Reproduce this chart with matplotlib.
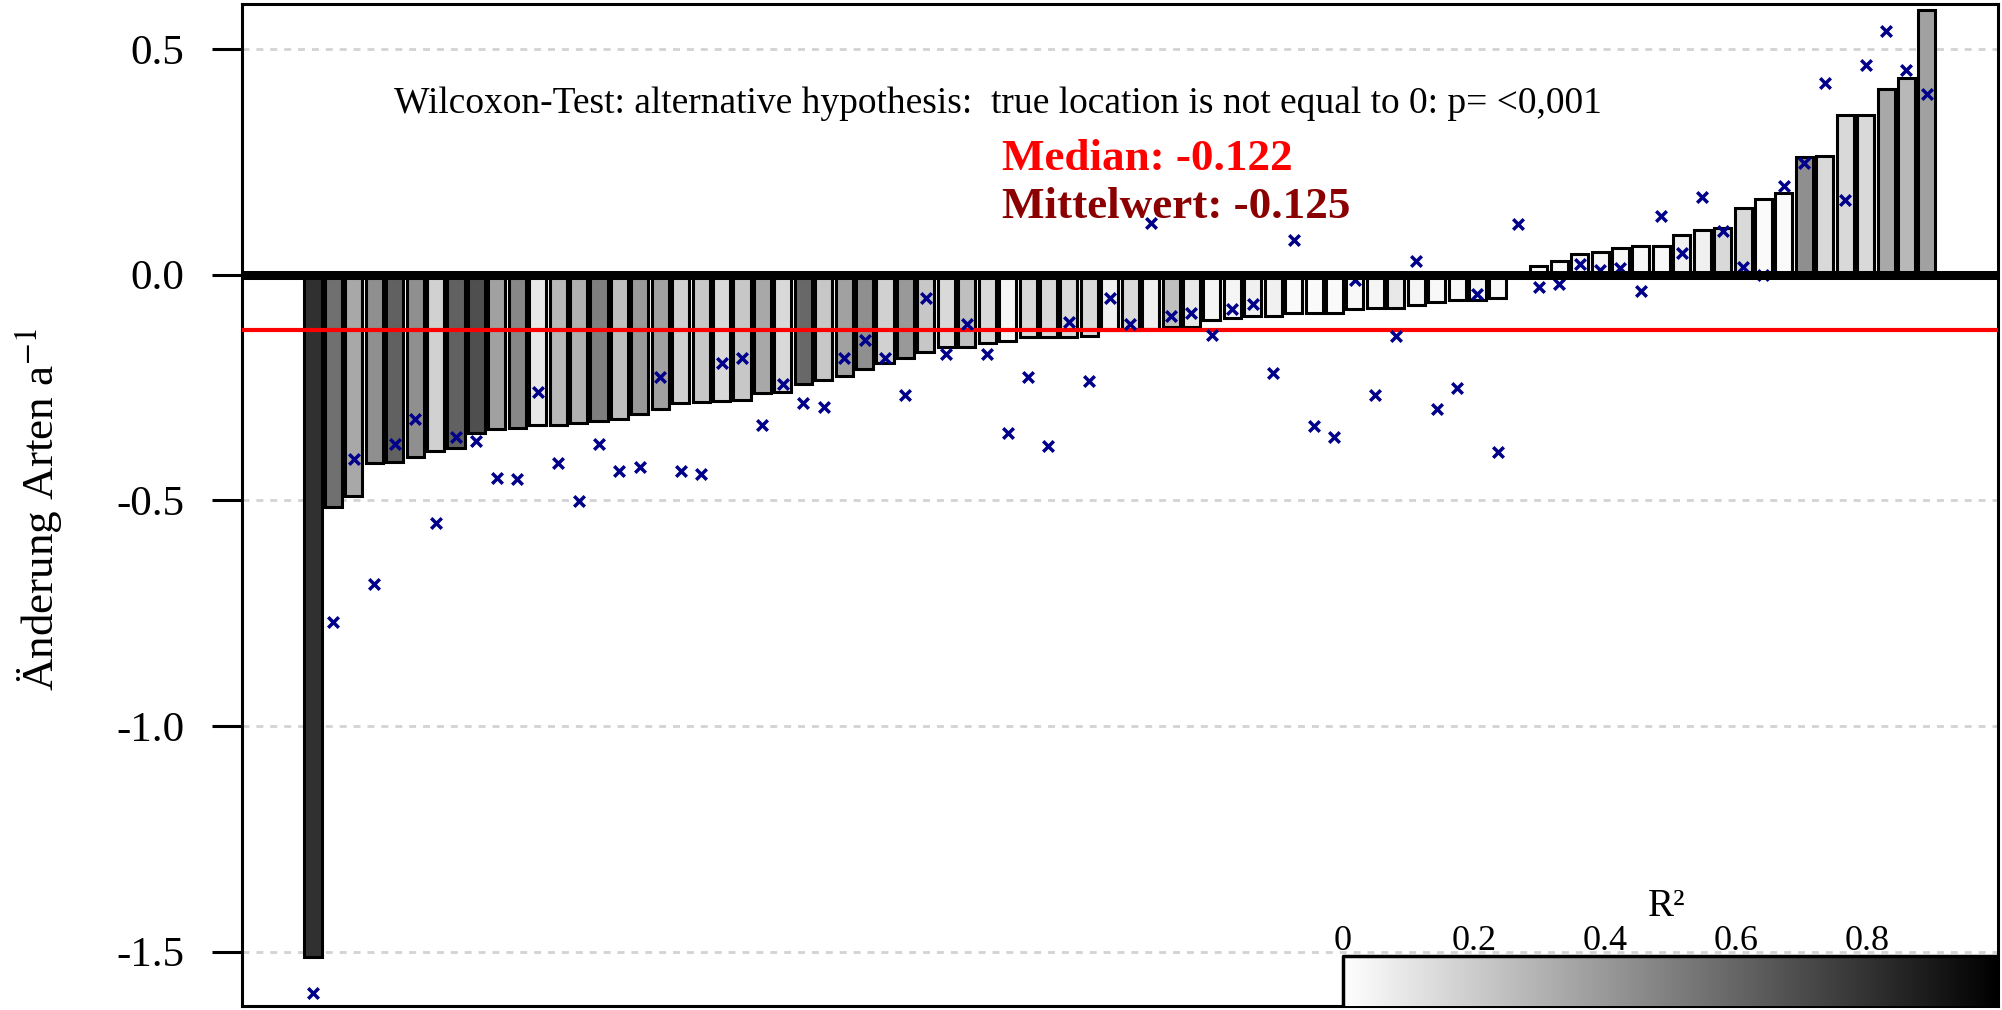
import numpy as np
from matplotlib import pyplot as plt

plt.rcParams['font.family'] = ['Liberation Serif', 'DejaVu Serif']
plt.rcParams['mathtext.fontset'] = 'stix'

# Change of species per year (bars), sorted ascending
slopes = [-1.513, -0.516, -0.490, -0.417, -0.415, -0.405, -0.391, -0.385, -0.352, -0.343,
          -0.341, -0.333, -0.333, -0.328, -0.324, -0.319, -0.310, -0.297, -0.285, -0.283,
          -0.281, -0.279, -0.263, -0.261, -0.243, -0.234, -0.224, -0.210, -0.197, -0.184,
          -0.171, -0.161, -0.160, -0.152, -0.147, -0.139, -0.138, -0.138, -0.136, -0.123,
          -0.122, -0.121, -0.117, -0.116, -0.101, -0.097, -0.093, -0.092, -0.086, -0.086,
          -0.085, -0.077, -0.075, -0.074, -0.068, -0.060, -0.056, -0.056, -0.053, 0.000,
          0.019, 0.031, 0.045, 0.049, 0.058, 0.063, 0.063, 0.088, 0.099, 0.103,
          0.148, 0.167, 0.180, 0.260, 0.263, 0.353, 0.353, 0.410, 0.436, 0.587]

# R² of each regression (bar shading)
r_squared = [0.81, 0.56, 0.34, 0.44, 0.62, 0.44, 0.18, 0.62, 0.69, 0.37,
             0.47, 0.09, 0.28, 0.31, 0.50, 0.25, 0.40, 0.37, 0.18, 0.22,
             0.15, 0.22, 0.34, 0.15, 0.59, 0.22, 0.37, 0.44, 0.18, 0.40,
             0.22, 0.15, 0.25, 0.15, 0.04, 0.15, 0.15, 0.15, 0.15, 0.06,
             0.15, 0.06, 0.25, 0.09, 0.04, 0.04, 0.06, 0.06, 0.02, 0.02,
             0.02, 0.03, 0.04, 0.09, 0.04, 0.03, 0.03, 0.04, 0.03, 0.00,
             0.03, 0.03, 0.04, 0.04, 0.03, 0.03, 0.03, 0.06, 0.06, 0.15,
             0.15, 0.02, 0.02, 0.44, 0.15, 0.15, 0.15, 0.34, 0.28, 0.37]

# second estimate per plot (blue crosses)
cross_vals = [-1.592, -0.769, -0.409, -0.685, -0.376, -0.319, -0.551, -0.359, -0.368, -0.450,
              -0.452, -0.261, -0.418, -0.502, -0.376, -0.435, -0.427, -0.226, -0.435, -0.443,
              -0.195, -0.186, -0.333, -0.243, -0.285, -0.293, -0.186, -0.144, -0.186, -0.268,
              -0.053, -0.177, -0.110, -0.177, -0.352, -0.227, -0.380, -0.105, -0.235, -0.053,
              -0.110, 0.115, -0.093, -0.086, -0.133, -0.077, -0.066, -0.219, 0.076, -0.336,
              -0.360, -0.012, -0.268, -0.136, 0.031, -0.298, -0.252, -0.043, -0.394, 0.112,
              -0.027, -0.021, 0.023, 0.010, 0.014, -0.036, 0.130, 0.047, 0.172, 0.097,
              0.017, -0.002, 0.196, 0.248, 0.424, 0.165, 0.464, 0.540, 0.453, 0.401]

y_ticks = [0.5, 0.0, -0.5, -1.0, -1.5]
y_tick_labels = ['0.5', '0.0', '-0.5', '-1.0', '-1.5']
grid_levels = [0.5, -0.5, -1.0, -1.5]
legend_ticks = [0, 0.2, 0.4, 0.6, 0.8]
legend_tick_labels = ['0', '0.2', '0.4', '0.6', '0.8']

wilcox_text = 'Wilcoxon-Test: alternative hypothesis:  true location is not equal to 0: p= <0,001'
median_value = -0.122
median_text = 'Median: -0.122'
mean_text = 'Mittelwert: -0.125'
y_label = 'Änderung Arten a$^{-1}$'
legend_title = 'R²'

# Set up figure
W, H = 2002, 1010
fig = plt.figure(figsize=(W / 100, H / 100), dpi=100)
ax = fig.add_axes([242 / W, 4 / H, (1998 - 242) / W, (1006 - 4) / H])
x = np.arange(len(slopes))
xlim = (-3.475, 82.48)
ylim = (-1.6205, 0.5993)

# Grid
for gy in grid_levels:
    ax.axhline(gy, color='#d3d3d3', lw=2, ls=(0, (2.5, 2.5)), zorder=0)

# Bars shaded by R²
colors = plt.cm.gray_r(np.array(r_squared))
ax.bar(x, slopes, width=1 / 1.2, color=colors, edgecolor='black', linewidth=2.2, zorder=2)

# Median line + crosses + zero line
ax.axhline(median_value, color='red', lw=3, zorder=3)
ax.scatter(x, cross_vals, marker='x', s=58, color='#00008B', linewidths=2.5, zorder=4)
ax.axhline(0, color='black', lw=6.5, zorder=5)

# R² colour legend
lx0, lx1, ltop = 50.42, xlim[1], -1.51
grad = np.linspace(0, 1, 256).reshape(1, -1)
ax.imshow(grad, cmap='gray_r', vmin=0, vmax=1, aspect='auto',
          extent=[lx0, lx1, ylim[0], ltop], zorder=6)
ax.plot([lx0, lx0, lx1], [ylim[0], ltop, ltop], color='black', lw=2.5, zorder=7)
for r, lab in zip(legend_ticks, legend_tick_labels):
    ax.text(lx0 + (lx1 - lx0) * r, -1.497, lab, ha='center', va='baseline', fontsize=26)
ax.text(66.27, -1.422, legend_title, ha='center', va='baseline', fontsize=28)

# Annotations
ax.text(3.96, 0.358, wilcox_text, fontsize=27, ha='left', va='baseline')
ax.text(33.73, 0.2315, median_text, color='red', fontsize=32.5, fontweight='bold',
        ha='left', va='baseline')
ax.text(33.73, 0.125, mean_text, color='#8B0000', fontsize=32.5, fontweight='bold',
        ha='left', va='baseline')

# Axes
ax.set_xlim(*xlim)
ax.set_ylim(*ylim)
ax.set_xticks([])
ax.set_yticks(y_ticks)
ax.set_yticklabels(y_tick_labels)
ax.tick_params(axis='y', length=21.6, width=2.2, pad=20, labelsize=31, direction='out')
for sp in ax.spines.values():
    sp.set_linewidth(2.2)
fig.text(65 / W, 1 - 510 / H, y_label, rotation=90, ha='right', va='center', fontsize=32.5)

fig.savefig('out.png', dpi=100)
